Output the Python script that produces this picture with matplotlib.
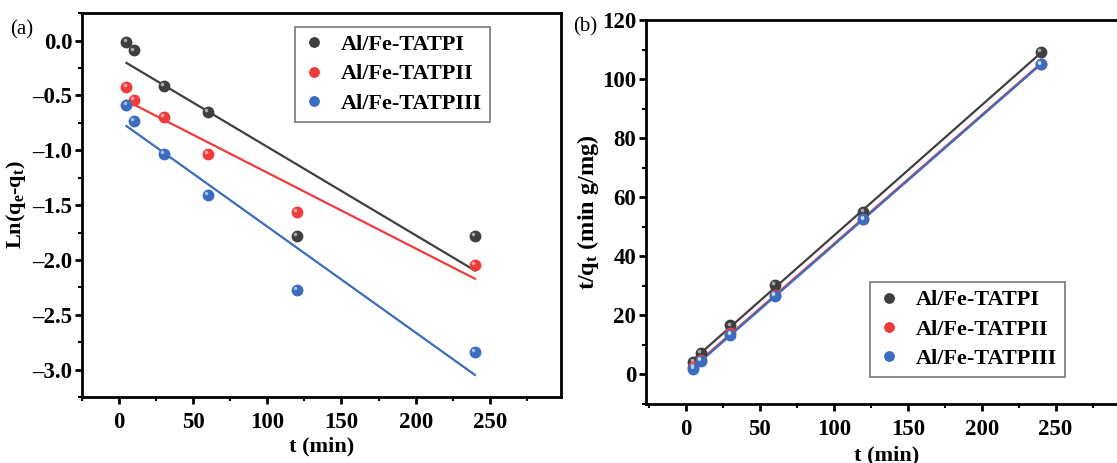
import numpy as np
import matplotlib
matplotlib.use("Agg")
import matplotlib.pyplot as plt
from matplotlib.ticker import MultipleLocator, FuncFormatter
from matplotlib.transforms import offset_copy

plt.rcParams['font.family'] = ['Liberation Serif', 'DejaVu Serif']
plt.rcParams['font.weight'] = 'bold'
plt.rcParams['mathtext.fontset'] = 'custom'
plt.rcParams['mathtext.rm'] = 'Liberation Serif:bold'
plt.rcParams['mathtext.it'] = 'Liberation Serif:bold'
plt.rcParams['mathtext.bf'] = 'Liberation Serif:bold'
plt.rcParams['axes.unicode_minus'] = False

# contact time (min)
t = np.array([5, 10, 30, 60, 120, 240])
names = ['Al/Fe-TATPI', 'Al/Fe-TATPII', 'Al/Fe-TATPIII']
colors = ['#3f3f3f', '#ef3b3b', '#3a6cc0']

# pseudo-first-order: ln(qe - qt)
ln_I = [-0.01, -0.09, -0.415, -0.65, -1.78, -1.78]
ln_II = [-0.425, -0.54, -0.695, -1.03, -1.56, -2.045]
ln_III = [-0.59, -0.735, -1.03, -1.41, -2.27, -2.84]

# pseudo-second-order: t/qt
tq_I = [4.2, 7.4, 16.6, 30.2, 54.9, 109.1]
tq_II = [2.4, 4.8, 13.9, 27.0, 52.8, 105.3]
tq_III = [1.9, 4.5, 13.5, 26.6, 52.5, 105.0]


def draw_series(ax, x, y, color, label):
    k, b = np.polyfit(x, y, 1)
    ax.plot(x, k * x + b, color=color, lw=1.6, zorder=2)
    ax.plot(x, y, 'o', ms=7.5, color=color, mec=color, label=label, zorder=3)
    # small highlight so the dots look like shaded spheres
    hl = offset_copy(ax.transData, fig=ax.figure, x=-1.2, y=1.4, units='points')
    ax.plot(x, y, 'o', ms=2.6, color='white', alpha=0.55, mec='none',
            transform=hl, zorder=4)


def style_axes(ax):
    for s in ax.spines.values():
        s.set_linewidth(2)
    ax.tick_params(which='major', direction='out', length=5, width=2,
                   labelsize=16.5, top=False, right=False)
    ax.tick_params(axis='x', which='major', pad=6)
    ax.tick_params(axis='y', which='major', pad=2)
    ax.tick_params(which='minor', direction='out', length=3, width=1.5,
                   top=False, right=False)
    for lab in ax.get_xticklabels() + ax.get_yticklabels():
        lab.set_fontweight('bold')


def add_legend(ax, **kw):
    leg = ax.legend(fontsize=16, frameon=True, fancybox=False,
                    edgecolor='#555555', handletextpad=0.7, borderpad=0.35,
                    labelspacing=0.4, handlelength=1.0, borderaxespad=0,
                    markerscale=0.9, **kw)
    leg.get_frame().set_linewidth(1.2)
    return leg


fig = plt.figure(figsize=(11.17, 4.63), dpi=100)

# (a) pseudo-first-order
ax1 = fig.add_axes([0.0734, 0.1425, 0.4288, 0.829])
for y, c, n in zip([ln_I, ln_II, ln_III], colors, names):
    draw_series(ax1, t, np.array(y), c, n)
ax1.set_xlim(-25, 298)
ax1.set_ylim(-3.25, 0.25)
ax1.xaxis.set_major_locator(MultipleLocator(50))
ax1.xaxis.set_minor_locator(MultipleLocator(25))
ax1.yaxis.set_major_locator(MultipleLocator(0.5))
ax1.yaxis.set_minor_locator(MultipleLocator(0.25))
ax1.yaxis.set_major_formatter(
    FuncFormatter(lambda v, pos: f'{v:.1f}'.replace('-', '\u2013')))
style_axes(ax1)
ax1.set_xlabel('t (min)', fontsize=16, fontweight='bold', labelpad=2)
ax1.set_ylabel(r'Ln(q$_{e}$-q$_{t}$)', fontsize=16, fontweight='bold', labelpad=3)
add_legend(ax1, loc='upper left', bbox_to_anchor=(0.445, 0.965))
fig.text(0.009, 0.935, '(a)', fontsize=15, fontweight='normal', va='center')

# (b) pseudo-second-order
ax2 = fig.add_axes([0.5783, 0.1274, 0.4303, 0.829])
for y, c, n in zip([tq_I, tq_II, tq_III], colors, names):
    draw_series(ax2, t, np.array(y), c, n)
ax2.set_xlim(-27, 298)
ax2.set_ylim(-10, 120)
ax2.xaxis.set_major_locator(MultipleLocator(50))
ax2.xaxis.set_minor_locator(MultipleLocator(25))
ax2.yaxis.set_major_locator(MultipleLocator(20))
ax2.yaxis.set_minor_locator(MultipleLocator(10))
style_axes(ax2)
ax2.set_xlabel('t (min)', fontsize=16, fontweight='bold', labelpad=4)
ax2.set_ylabel(r't/q$_{t}$ (min g/mg)', fontsize=17.5, fontweight='bold', labelpad=1)
add_legend(ax2, loc='upper left', bbox_to_anchor=(0.467, 0.318))
fig.text(0.513, 0.942, '(b)', fontsize=15, fontweight='normal', va='center')

fig.savefig('out.png', dpi=100)
